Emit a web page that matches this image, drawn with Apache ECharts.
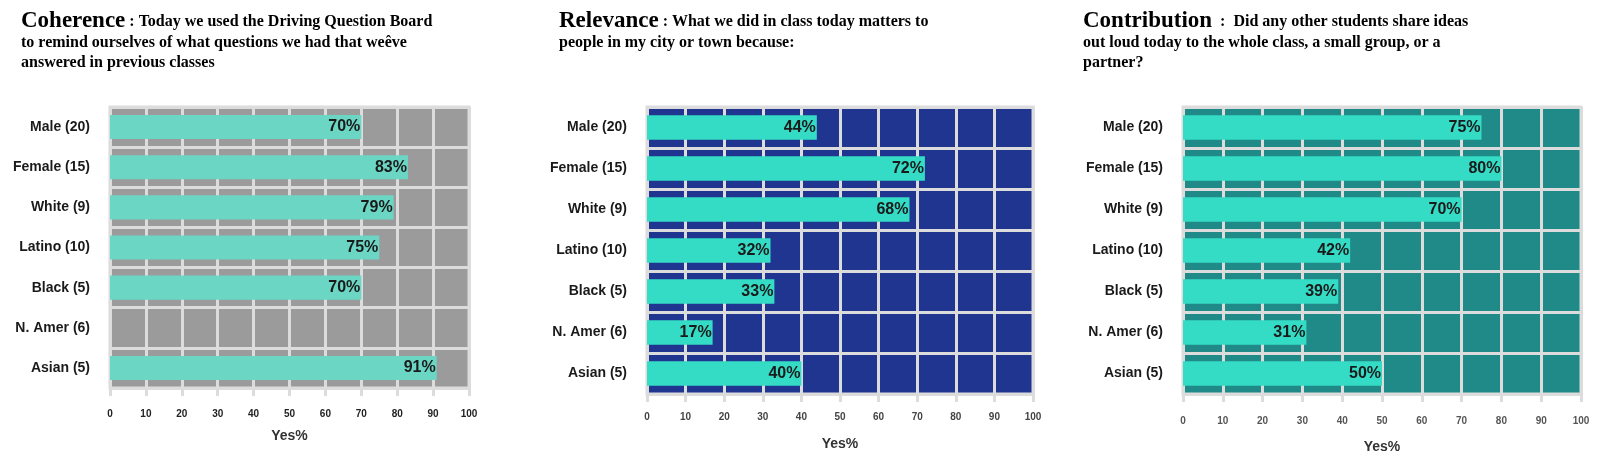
<!DOCTYPE html>
<html>
<head>
<meta charset="utf-8">
<script src="https://cdn.jsdelivr.net/npm/echarts@6/dist/echarts.min.js"></script>
<style>
html,body{margin:0;padding:0;background:#fff;}
#chart{width:1600px;height:459px;}
</style>
</head>
<body>
<div id="chart"></div>
<script>
const categories = ['Male (20)', 'Female (15)', 'White (9)', 'Latino (10)', 'Black (5)', 'N. Amer (6)', 'Asian (5)'];
const coherence = [70, 83, 79, 75, 70, null, 91];
const relevance = [44, 72, 68, 32, 33, 17, 40];
const contribution = [75, 80, 70, 42, 39, 31, 50];
const xTicks = [0, 10, 20, 30, 40, 50, 60, 70, 80, 90, 100];

const titleHeads = ['Coherence', 'Relevance', 'Contribution'];
const titleBodies = [
  [' : Today we used the Driving Question Board', 'to remind ourselves of what questions we had that weêve', 'answered in previous classes'],
  [' : What we did in class today matters to', 'people in my city or town because:'],
  ['  :  Did any other students share ideas', 'out loud today to the whole class, a small group, or a', 'partner?']
];
const axisTitle = 'Yes%';

const panels = [
  {data: coherence, bg: '#9b9b9b', bar: '#6ad6c3', left: 110, right: 1131, bottom: 71, titleLeft: 16, tickColor: '#222', tickMargin: 21, nameGap: 41},
  {data: relevance, bg: '#1f3590', bar: '#34dbc5', left: 647, right: 567, bottom: 65, titleLeft: 554, tickColor: '#444', tickMargin: 18, nameGap: 43},
  {data: contribution, bg: '#1f8a87', bar: '#34dbc5', left: 1183, right: 19, bottom: 65, titleLeft: 1078, tickColor: '#555', tickMargin: 22, nameGap: 46}
];

const gridLine = '#dcdcdc';
const serif = '"Liberation Serif", "Times New Roman", serif';
const sans = '"Liberation Sans", Arial, sans-serif';

const option = {
  backgroundColor: '#ffffff',
  animation: false,
  title: panels.map((p, i) => {
    const body = titleBodies[i];
    let text = '{h|' + titleHeads[i] + '}{b|' + body[0] + '}';
    for (let k = 1; k < body.length; k++) text += '\n{b|' + body[k] + '}';
    return {
      left: p.titleLeft,
      top: 5,
      text: text,
      textStyle: {
        rich: {
          h: {fontFamily: serif, fontSize: 23, fontWeight: 'bold', color: '#000', lineHeight: 23},
          b: {fontFamily: serif, fontSize: 16, fontWeight: 'bold', color: '#000', lineHeight: 20}
        }
      }
    };
  }),
  grid: panels.map(p => ({
    left: p.left, right: p.right, top: 107, bottom: p.bottom,
    show: true, backgroundColor: p.bg, borderColor: gridLine, borderWidth: 3,
    containLabel: false
  })),
  xAxis: panels.map((p, i) => ({
    type: 'value', gridIndex: i, min: 0, max: 100, interval: 10,
    axisLine: {show: false},
    axisTick: {show: true, length: 8, lineStyle: {color: gridLine, width: 3}},
    axisLabel: {
      margin: p.tickMargin, fontFamily: sans, fontSize: 10, fontWeight: 'bold', color: p.tickColor,
      formatter: v => xTicks.includes(v) ? String(v) : ''
    },
    splitLine: {show: true, lineStyle: {color: gridLine, width: 3}},
    name: axisTitle, nameLocation: 'middle', nameGap: p.nameGap,
    nameTextStyle: {fontFamily: sans, fontSize: 14, fontWeight: 'bold', color: '#333'}
  })),
  yAxis: panels.map((p, i) => ({
    type: 'category', gridIndex: i, data: categories, inverse: true,
    axisLine: {show: false}, axisTick: {show: false},
    axisLabel: {margin: 20, fontFamily: sans, fontSize: 14, fontWeight: 'bold', color: '#1a1a1a'},
    splitLine: {show: true, lineStyle: {color: gridLine, width: 3}}
  })),
  series: panels.map((p, i) => ({
    type: 'bar', xAxisIndex: i, yAxisIndex: i,
    data: p.data.map(v => v === null ? '-' : v),
    barWidth: '60%',
    itemStyle: {color: p.bar},
    label: {
      show: true, position: 'insideRight', distance: 1,
      formatter: '{c}%', fontFamily: sans, fontSize: 16, fontWeight: 'bold', color: '#1a1a1a'
    }
  }))
};

const chart = echarts.init(document.getElementById('chart'), null, {renderer: 'canvas'});
chart.setOption(option);
</script>
</body>
</html>
